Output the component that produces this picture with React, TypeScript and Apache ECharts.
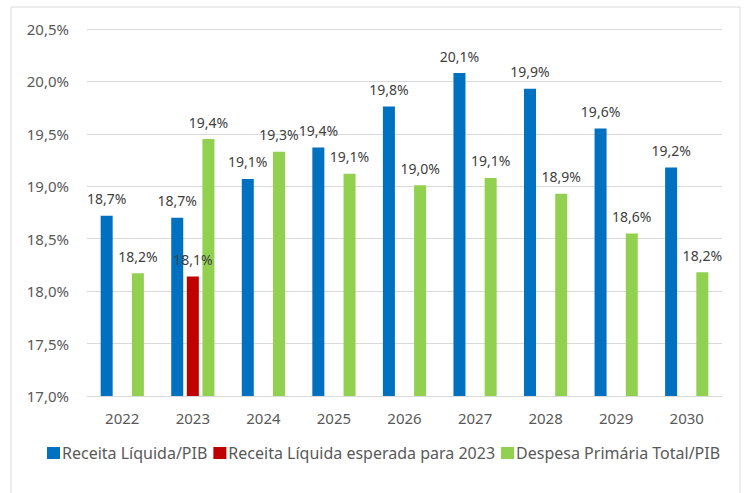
import React, { useEffect, useRef } from "react";
import * as echarts from "echarts";

const categories = ["2022", "2023", "2024", "2025", "2026", "2027", "2028", "2029", "2030"];
const receitaLiquida = [18.72, 18.7, 19.07, 19.37, 19.76, 20.08, 19.93, 19.55, 19.18];
const receitaEsperada = [null, 18.14, null, null, null, null, null, null, null];
const despesaPrimaria = [18.17, 19.45, 19.33, 19.12, 19.01, 19.08, 18.93, 18.55, 18.18];
const seriesNames = ["Receita Líquida/PIB", "Receita Líquida esperada para 2023", "Despesa Primária Total/PIB"];

const FONT = "'Noto Sans', sans-serif";
const fmt = (v: number) => v.toFixed(1).replace(".", ",") + "%";

export default function App() {
  const ref = useRef<HTMLDivElement>(null);
  useEffect(() => {
    if (!ref.current) return;
    const chart = echarts.init(ref.current, null, { renderer: "svg" });
    const label = {
      show: true,
      position: "top" as const,
      distance: 10,
      fontFamily: FONT,
      fontSize: 14,
      color: "#404040",
      formatter: (p: any) => fmt(p.value),
    };
    chart.setOption({
      animation: false,
      backgroundColor: "#ffffff",
      textStyle: { fontFamily: FONT },
      graphic: [
        {
          type: "rect",
          shape: { x: 11, y: 7, width: 729, height: 500 },
          style: { fill: "none", stroke: "#d9d9d9", lineWidth: 1 },
          silent: true,
        },
      ],
      grid: { left: 87, right: 23, top: 29, bottom: 97, containLabel: false },
      legend: {
        left: 42,
        top: 440,
        itemWidth: 13,
        itemHeight: 12,
        itemGap: 6,
        icon: "rect",
        textStyle: { fontFamily: FONT, fontSize: 16, color: "#595959", padding: [0, 0, 0, -3] },
        data: seriesNames,
      },
      xAxis: {
        type: "category",
        data: categories,
        axisLine: { lineStyle: { color: "#d9d9d9", width: 1 } },
        axisTick: { show: false },
        axisLabel: { fontFamily: FONT, fontSize: 15, color: "#595959", margin: 14 },
      },
      yAxis: {
        type: "value",
        min: 17,
        max: 20.5,
        interval: 0.5,
        axisLine: { show: false },
        axisTick: { show: false },
        splitLine: { lineStyle: { color: "#d9d9d9", width: 1 } },
        axisLabel: { fontFamily: FONT, fontSize: 15, color: "#595959", margin: 18, formatter: (v: number) => fmt(v) },
      },
      series: [
        { name: seriesNames[0], type: "bar", data: receitaLiquida, barWidth: 12, barGap: "30%", itemStyle: { color: "#0070C0" }, label },
        { name: seriesNames[1], type: "bar", data: receitaEsperada, barWidth: 12, barGap: "30%", itemStyle: { color: "#C00000" }, label },
        { name: seriesNames[2], type: "bar", data: despesaPrimaria, barWidth: 12, barGap: "30%", itemStyle: { color: "#92D050" }, label },
      ],
    });
    return () => chart.dispose();
  }, []);
  return <div ref={ref} style={{ position: "fixed", left: 0, top: 0, width: 745, height: 493 }} />;
}
